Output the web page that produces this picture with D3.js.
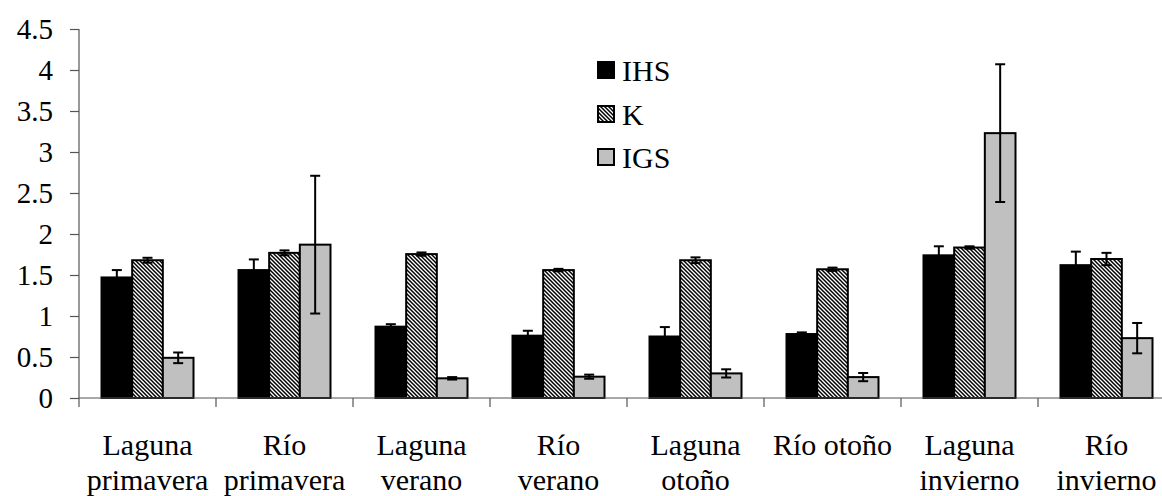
<!DOCTYPE html>
<html>
<head>
<meta charset="utf-8">
<script src="https://cdn.jsdelivr.net/npm/d3@7"></script>
<style>
  html, body { margin: 0; padding: 0; background: #fff; }
  svg { display: block; }
  svg text {
    font-family: "Liberation Serif", LiberationSerif, "Noto Serif", "DejaVu Serif", FreeSerif,
      "Nimbus Roman", "Nimbus Roman No9 L", Tinos, Times, "Times New Roman", Georgia, serif;
    fill: #000;
  }
</style>
</head>
<body>
<svg id="chart" width="1162" height="496"></svg>
<script>
// Categories (line breaks split the axis labels)
const categories = [
  "Laguna\nprimavera", "Río\nprimavera", "Laguna\nverano", "Río\nverano",
  "Laguna\notoño", "Río otoño", "Laguna\ninvierno", "Río\ninvierno"
];
const seriesNames = ["IHS", "K", "IGS"];

// Means and error (±) per series
const ihsValues = [1.47, 1.56, 0.87, 0.76, 0.75, 0.78, 1.74, 1.62];
const ihsErrors = [0.09, 0.13, 0.03, 0.06, 0.115, 0.02, 0.11, 0.165];
const kValues   = [1.68, 1.77, 1.755, 1.56, 1.68, 1.57, 1.835, 1.695];
const kErrors   = [0.03, 0.03, 0.02, 0.015, 0.035, 0.02, 0.015, 0.075];
const igsValues = [0.49, 1.87, 0.24, 0.26, 0.30, 0.255, 3.23, 0.73];
const igsErrors = [0.065, 0.84, 0.015, 0.025, 0.05, 0.05, 0.84, 0.185];

const yTicks = [0, 0.5, 1, 1.5, 2, 2.5, 3, 3.5, 4, 4.5];

const valuesBySeries = { IHS: ihsValues, K: kValues, IGS: igsValues };
const errorsBySeries = { IHS: ihsErrors, K: kErrors, IGS: igsErrors };

const svg = d3.select("#chart");
const defs = svg.append("defs");

// Diagonal "\" hatch used for the K series
const hatch = defs.append("pattern")
  .attr("id", "hatch")
  .attr("patternUnits", "userSpaceOnUse")
  .attr("width", 4).attr("height", 4);
hatch.append("rect").attr("width", 4).attr("height", 4).attr("fill", "#fff");
hatch.append("path")
  .attr("d", "M0,0 L4,4 M-1,3 L1,5 M3,-1 L5,1")
  .attr("stroke", "#000").attr("stroke-width", 1.5);

const fills = { IHS: "#000", K: "url(#hatch)", IGS: "#c0c0c0" };

const plotLeft = 79, bandWidth = 137, plotTop = 29, plotBottom = 398;

const x0 = d3.scaleBand()
  .domain(categories)
  .range([plotLeft, plotLeft + bandWidth * categories.length])
  .paddingInner(0).paddingOuter(0);

const groupInset = 22.5;
const x1 = d3.scaleBand()
  .domain(seriesNames)
  .range([groupInset, x0.bandwidth() - groupInset])
  .padding(0);

const y = d3.scaleLinear().domain([0, 4.5]).range([plotBottom, plotTop]);

// Y axis
const yAxis = svg.append("g")
  .attr("transform", `translate(${plotLeft},0)`)
  .call(d3.axisLeft(y).tickValues(yTicks).tickSize(9).tickPadding(17)
    .tickFormat(d => String(d)));
yAxis.attr("font-family", null);
yAxis.select(".domain").attr("stroke", "#555").attr("stroke-width", 1.2)
  .attr("d", `M0,${plotTop}V${plotBottom}`);
yAxis.selectAll(".tick line").attr("stroke", "#555").attr("stroke-width", 1.2);
yAxis.selectAll(".tick text")
  .style("font-size", "29px").attr("fill", "#000");

// Bars
const groups = svg.append("g").selectAll("g")
  .data(categories)
  .join("g")
  .attr("transform", d => `translate(${x0(d)},0)`);

groups.selectAll("rect")
  .data((c, i) => seriesNames.map(s => ({ s, v: valuesBySeries[s][i], e: errorsBySeries[s][i] })))
  .join("rect")
  .attr("x", d => x1(d.s))
  .attr("y", d => y(d.v))
  .attr("width", x1.bandwidth())
  .attr("height", d => y(0) - y(d.v))
  .attr("fill", d => fills[d.s])
  .attr("stroke", "#000")
  .attr("stroke-width", 2);

// Error bars
const capHalf = 5;
const err = groups.selectAll("g.err")
  .data((c, i) => seriesNames.map(s => ({ s, v: valuesBySeries[s][i], e: errorsBySeries[s][i] })))
  .join("g").attr("class", "err")
  .attr("stroke", "#000").attr("stroke-width", 2);
err.append("line")
  .attr("x1", d => x1(d.s) + x1.bandwidth() / 2)
  .attr("x2", d => x1(d.s) + x1.bandwidth() / 2)
  .attr("y1", d => y(d.v + d.e))
  .attr("y2", d => y(d.v - d.e));
err.append("line")
  .attr("x1", d => x1(d.s) + x1.bandwidth() / 2 - capHalf)
  .attr("x2", d => x1(d.s) + x1.bandwidth() / 2 + capHalf)
  .attr("y1", d => y(d.v + d.e)).attr("y2", d => y(d.v + d.e));
err.append("line")
  .attr("x1", d => x1(d.s) + x1.bandwidth() / 2 - capHalf)
  .attr("x2", d => x1(d.s) + x1.bandwidth() / 2 + capHalf)
  .attr("y1", d => y(d.v - d.e)).attr("y2", d => y(d.v - d.e));

// X axis: ticks mark the category boundaries
const boundaries = categories.map(c => x0(c));
const xAxisG = svg.append("g");
xAxisG.append("line")
  .attr("x1", plotLeft).attr("x2", x0.range()[1])
  .attr("y1", plotBottom).attr("y2", plotBottom)
  .attr("stroke", "#555").attr("stroke-width", 1.2);
xAxisG.selectAll("line.tick")
  .data(boundaries)
  .join("line").attr("class", "tick")
  .attr("x1", d => d).attr("x2", d => d)
  .attr("y1", plotBottom).attr("y2", plotBottom + 9)
  .attr("stroke", "#555").attr("stroke-width", 1.2);

// Category labels
const labels = svg.append("g").selectAll("text")
  .data(categories)
  .join("text")
  .attr("text-anchor", "middle")
  .attr("x", d => x0(d) + x0.bandwidth() / 2)
  .attr("y", 455)
  .style("font-size", "30px");
labels.selectAll("tspan")
  .data(d => d.split("\n"))
  .join("tspan")
  .attr("x", function () { return d3.select(this.parentNode).attr("x"); })
  .attr("dy", (d, i) => i === 0 ? 0 : 35)
  .text(d => d);

// Legend
const legend = svg.append("g").attr("transform", "translate(598,0)");
const legendRows = [70, 114, 157];
seriesNames.forEach((s, i) => {
  legend.append("rect")
    .attr("x", 0).attr("y", legendRows[i] - 8)
    .attr("width", 16).attr("height", 16)
    .attr("fill", fills[s]).attr("stroke", "#000").attr("stroke-width", 2);
  legend.append("text")
    .attr("x", 24).attr("y", legendRows[i] + 11)
    .style("font-size", "30px")
    .text(s);
});
</script>
</body>
</html>
